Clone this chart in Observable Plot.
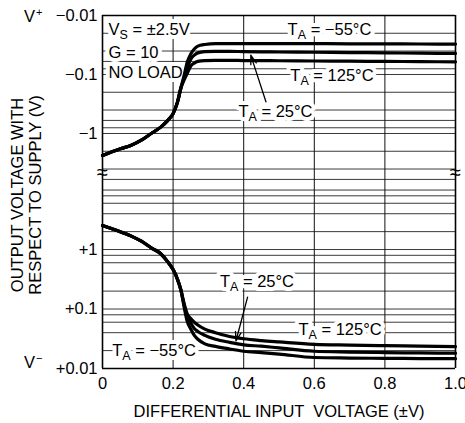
<!DOCTYPE html>
<html><head><meta charset="utf-8">
<script src="https://cdn.jsdelivr.net/npm/d3@7"></script>
<script src="https://cdn.jsdelivr.net/npm/@observablehq/plot@0.6"></script>
<style>
body{margin:0;background:#fff;}
#wrap{position:relative;width:465px;height:423px;overflow:hidden;font-family:"Liberation Sans",Arial,sans-serif;color:#000;}
#wrap svg{display:block;}
.ov{position:absolute;font-size:16.5px;line-height:1;white-space:nowrap;}
.ov sup{font-size:11px;vertical-align:6px;margin-left:1px;}
#ytitle{left:25.5px;top:195px;transform:translate(-50%,-50%) rotate(-90deg);text-align:center;line-height:18px;}
</style></head><body><div id="wrap"></div>
<script>
// ---- data ----
const xVals = [0, 0.025, 0.05, 0.08, 0.11, 0.14, 0.165, 0.185, 0.2, 0.212, 0.222, 0.231, 0.24, 0.25, 0.26, 0.27, 0.29, 0.32, 0.36, 0.4, 0.45, 0.5, 0.6, 0.7, 0.8, 0.9, 1.0];
// upper panel: output magnitude below V+ (V)
const topM55 = [2.36, 2.05, 1.82, 1.60, 1.30, 0.98, 0.78, 0.60, 0.46, 0.30, 0.17, 0.105, 0.062, 0.045, 0.037, 0.033, 0.031, 0.030, 0.030, 0.030, 0.030, 0.030, 0.030, 0.0302, 0.0303, 0.0304, 0.0305];
const top25  = [2.36, 2.05, 1.82, 1.60, 1.30, 0.98, 0.78, 0.60, 0.46, 0.30, 0.17, 0.115, 0.078, 0.055, 0.047, 0.043, 0.041, 0.0405, 0.0405, 0.041, 0.0413, 0.0416, 0.042, 0.0425, 0.043, 0.0435, 0.044];
const top125 = [2.36, 2.05, 1.82, 1.60, 1.30, 0.98, 0.78, 0.60, 0.46, 0.30, 0.17, 0.125, 0.096, 0.072, 0.064, 0.060, 0.058, 0.0575, 0.0575, 0.058, 0.0582, 0.0585, 0.059, 0.0595, 0.060, 0.0605, 0.061];
// lower panel: output above V- (V)
const botM55 = [2.53, 2.25, 2.0, 1.7, 1.38, 1.05, 0.85, 0.62, 0.46, 0.32, 0.21, 0.11, 0.062, 0.046, 0.036, 0.031, 0.026, 0.0235, 0.0213, 0.0195, 0.0185, 0.0175, 0.0153, 0.0150, 0.0148, 0.0147, 0.0146];
const bot25  = [2.53, 2.25, 2.0, 1.7, 1.38, 1.05, 0.85, 0.62, 0.46, 0.32, 0.21, 0.118, 0.073, 0.058, 0.047, 0.042, 0.036, 0.031, 0.0275, 0.025, 0.0237, 0.0222, 0.0195, 0.0189, 0.0185, 0.0183, 0.0181];
const bot125 = [2.53, 2.25, 2.0, 1.7, 1.38, 1.05, 0.85, 0.62, 0.46, 0.32, 0.21, 0.125, 0.083, 0.069, 0.060, 0.054, 0.046, 0.040, 0.0345, 0.0316, 0.0295, 0.028, 0.0255, 0.0248, 0.0242, 0.0238, 0.0234];
const xTicks = [0, 0.2, 0.4, 0.6, 0.8, 1.0];
const xGrid = [0.2, 0.4, 0.6, 0.8];
const topTicks = [0.01, 0.1, 1];
const botTicks = [0.01, 0.1, 1];
const topGrid = [0.02, 0.04, 0.06, 0.08, 0.1, 0.2, 0.4, 0.6, 0.8, 1, 2, 4, 6];
const botGrid = [0.02, 0.04, 0.06, 0.08, 0.1, 0.2, 0.4, 0.6, 0.8, 1, 2, 4, 6, 8, 10];

const FONT = '"Liberation Sans", Arial, sans-serif';
const FS = 16.5;
const series = (arr, t) => xVals.map((x, i) => ({x, v: arr[i], t}));
const topData = [...series(topM55, "-55"), ...series(top25, "25"), ...series(top125, "125")];
const botData = [...series(botM55, "-55"), ...series(bot25, "25"), ...series(bot125, "125")];

const label = (txt, x, y, anchor = "middle") =>
  Plot.text([txt], {x: () => x, y: () => y, text: d => d, textAnchor: anchor, fontSize: FS,
    fill: "black", stroke: "white", strokeWidth: 8});

const common = {
  width: 465, marginLeft: 102, marginRight: 10,
  style: {fontFamily: FONT, fontSize: FS + "px", color: "#000", background: "#fff", overflow: "visible"}
};

const topPlot = Plot.plot({
  ...common, height: 182, marginTop: 15, marginBottom: 0,
  x: {domain: [0, 1], axis: null},
  y: {type: "log", domain: [0.01, 6.77], reverse: true, ticks: topTicks, tickFormat: d => "\u2212" + d, tickSize: 0, tickPadding: 5, label: null},
  marks: [
    Plot.ruleY(topGrid, {stroke: "#3a3a3a", strokeWidth: 1}),
    Plot.ruleX(xGrid, {stroke: "#111", strokeWidth: 1}),
    label("V_S = \u00B12.5V", 0.017, 0.0175, "start"),
    label("G = 10", 0.017, 0.0424, "start"),
    label("NO LOAD", 0.017, 0.0925, "start"),
    label("T_A = \u221255\u00B0C", 0.643, 0.0177),
    label("T_A = 125\u00B0C", 0.65, 0.104),
    label("T_A = 25\u00B0C", 0.49, 0.43),
    Plot.line(topData, {x: "x", y: "v", z: "t", stroke: "black", strokeWidth: 3.2, curve: "monotone-x"}),
    Plot.arrow([0], {x1: () => 0.463, y1: () => 0.29, x2: () => 0.42, y2: () => 0.047, stroke: "black", strokeWidth: 1.3, headLength: 11, headAngle: 35}),
    Plot.text(["\u2248", "\u2248"], {x: (d, i) => i, y: () => 4.6, text: d => d, fontSize: 20, fill: "black"}),
    Plot.ruleX([0, 1], {stroke: "black", strokeWidth: 1.6}),
    Plot.ruleY([0.01], {stroke: "black", strokeWidth: 1.6})
  ]
});

const botPlot = Plot.plot({
  ...common, height: 241, marginTop: 0, marginBottom: 55,
  x: {domain: [0, 1], ticks: xTicks, tickFormat: d => d === 0 ? "0" : d.toFixed(1), tickSize: 0, tickPadding: 9,
      label: "DIFFERENTIAL INPUT  VOLTAGE (\u00B1V)", labelAnchor: "center", labelOffset: 48, labelArrow: "none"},
  y: {type: "log", domain: [0.01, 13.4], ticks: botTicks, tickFormat: d => "+" + d, tickSize: 0, tickPadding: 5, label: null},
  marks: [
    Plot.ruleY(botGrid, {stroke: "#3a3a3a", strokeWidth: 1}),
    Plot.ruleX(xGrid, {stroke: "#111", strokeWidth: 1}),
    label("T_A = 25\u00B0C", 0.4375, 0.29),
    label("T_A = 125\u00B0C", 0.673, 0.0452),
    label("T_A = \u221255\u00B0C", 0.146, 0.02),
    Plot.line(botData, {x: "x", y: "v", z: "t", stroke: "black", strokeWidth: 3.2, curve: "monotone-x"}),
    Plot.arrow([0], {x1: () => 0.411, y1: () => 0.158, x2: () => 0.378, y2: () => 0.029, stroke: "black", strokeWidth: 1.3, headLength: 11, headAngle: 35}),
    Plot.ruleX([0, 1], {stroke: "black", strokeWidth: 1.6}),
    Plot.ruleY([0.01], {stroke: "black", strokeWidth: 1.6})
  ]
});

// subscripts: "X_Y rest" -> X, subscript Y, rest
const NS = "http://www.w3.org/2000/svg";
function subscripts(svg) {
  svg.querySelectorAll("text").forEach(t => {
    const s = t.textContent;
    const m = s.match(/^(.*?)_(\w)(.*)$/);
    if (!m || t.querySelector("tspan")) return;
    t.textContent = "";
    const a = document.createElementNS(NS, "tspan"); a.textContent = m[1];
    const b = document.createElementNS(NS, "tspan"); b.textContent = m[2];
    b.setAttribute("dy", "4"); b.setAttribute("font-size", "12.5");
    const c = document.createElementNS(NS, "tspan"); c.textContent = m[3];
    c.setAttribute("dy", "-4");
    t.append(a, b, c);
  });
  svg.style.whiteSpace = "pre";
}
subscripts(topPlot); subscripts(botPlot);

const wrap = document.getElementById("wrap");
wrap.append(topPlot, botPlot);

const vp = document.createElement("div"); vp.className = "ov";
vp.style.left = "24px"; vp.style.top = "7px"; vp.innerHTML = "V<sup>+</sup>";
const vm = document.createElement("div"); vm.className = "ov";
vm.style.left = "24px"; vm.style.top = "353px"; vm.innerHTML = "V<sup>\u2212</sup>";
const yt = document.createElement("div"); yt.className = "ov"; yt.id = "ytitle";
yt.innerHTML = "OUTPUT VOLTAGE WITH<br>RESPECT TO SUPPLY (V)";
wrap.append(vp, vm, yt);
</script></body></html>
